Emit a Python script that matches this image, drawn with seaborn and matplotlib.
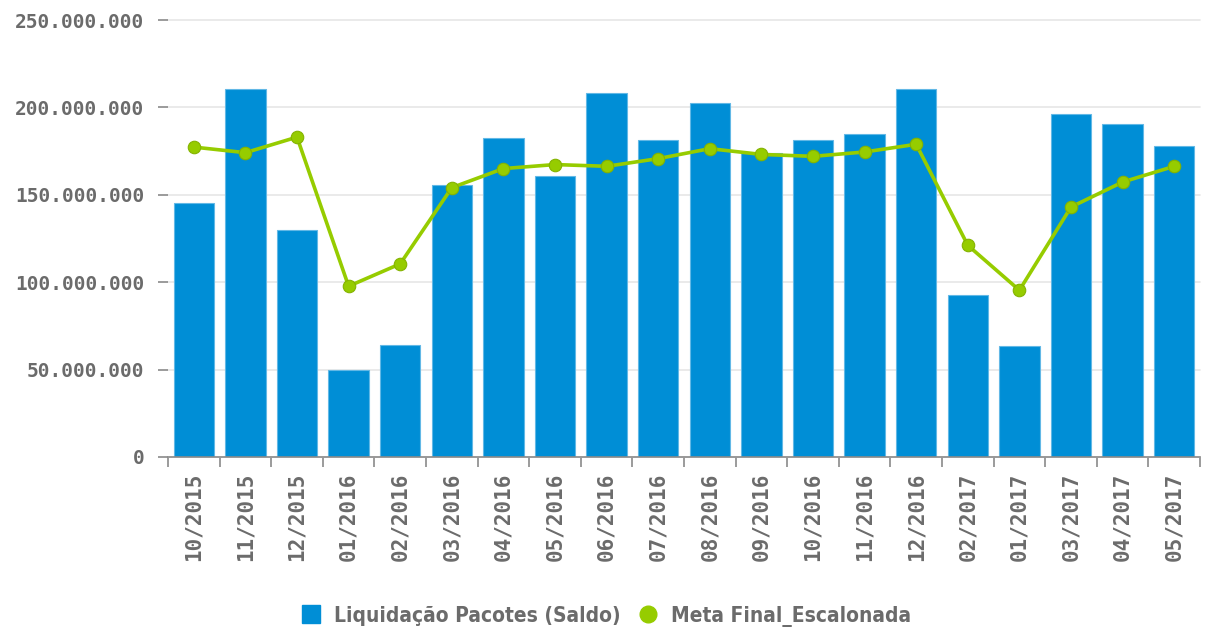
import matplotlib
matplotlib.use("Agg")
import matplotlib.pyplot as plt
import seaborn as sns
import pandas as pd
from matplotlib.lines import Line2D
from matplotlib.ticker import FuncFormatter, FixedLocator

categories = ["10/2015", "11/2015", "12/2015", "01/2016", "02/2016", "03/2016",
              "04/2016", "05/2016", "06/2016", "07/2016", "08/2016", "09/2016",
              "10/2016", "11/2016", "12/2016", "02/2017", "01/2017", "03/2017",
              "04/2017", "05/2017"]
liquidacao = [145.5, 210.7, 129.7, 49.7, 64.2, 155.4, 182.5, 161.0, 208.4, 181.3,
              202.7, 173.7, 181.3, 185.0, 210.7, 92.4, 63.3, 196.0, 190.5, 177.9]
meta = [177.3, 174.1, 183.0, 97.7, 110.5, 154.1, 165.0, 167.3, 166.3, 170.7,
        176.4, 173.1, 172.0, 174.5, 178.9, 121.1, 95.4, 143.0, 157.3, 166.3]
series_names = ["Liquidação Pacotes (Saldo)", "Meta Final_Escalonada"]

df = pd.DataFrame({
    "mes": categories,
    "liq": [v * 1e6 for v in liquidacao],
    "meta": [v * 1e6 for v in meta],
})

BLUE = "#008ED6"
GREEN = "#96CC00"
TXT = "#6b6b6b"

sns.set_theme(style="white")
plt.rcParams["font.family"] = ["DejaVu Sans Mono", "DejaVu Sans"]

fig = plt.figure(figsize=(12.05, 6.3), dpi=100)
ax = fig.add_axes([168 / 1205, 1 - 457 / 630, (1200 - 168) / 1205, (457 - 20) / 630])

sns.barplot(data=df, x="mes", y="liq", order=categories, color=BLUE, saturation=1,
            width=0.78, edgecolor="#62b8e6", linewidth=0.8, ax=ax, zorder=2)
sns.pointplot(data=df, x="mes", y="meta", order=categories, color=GREEN,
              markers="o", linewidth=2.6, markersize=9, ax=ax, zorder=3)
for coll in ax.lines:
    coll.set_markeredgecolor("#84b300")
    coll.set_markeredgewidth(0.8)

ax.set_xlim(-0.5, len(categories) - 0.5)
ax.set_ylim(0, 250e6)
ax.set_yticks([0, 50e6, 100e6, 150e6, 200e6, 250e6])
ax.yaxis.set_major_formatter(FuncFormatter(lambda v, p: f"{int(v):,}".replace(",", ".")))
ax.yaxis.grid(True, color="#e6e6e6", linewidth=1.2, zorder=0)
ax.set_axisbelow(True)
for gl in ax.get_ygridlines():
    gl.set_clip_on(False)

ax.set_xlabel("")
ax.set_ylabel("")
for s in ["top", "right", "left"]:
    ax.spines[s].set_visible(False)
ax.spines["bottom"].set_color("#8a8a8a")
ax.spines["bottom"].set_linewidth(1.2)

ax.set_xticks(range(len(categories)))
ax.set_xticklabels(categories, rotation=90, fontsize=15, fontweight="bold", color=TXT)
ax.tick_params(axis="x", which="major", length=0, pad=11)
ax.xaxis.set_minor_locator(FixedLocator([i - 0.5 for i in range(len(categories) + 1)]))
ax.tick_params(axis="x", which="minor", bottom=True, length=7, width=1.2, color="#8a8a8a")
ax.tick_params(axis="y", left=True, length=7, width=1.2, color="#8a8a8a", pad=10)
for lab in ax.get_yticklabels():
    lab.set_fontsize(14)
    lab.set_fontweight("bold")
    lab.set_color(TXT)

handles = [
    Line2D([], [], marker="s", linestyle="", markersize=13, color=BLUE),
    Line2D([], [], marker="o", linestyle="", markersize=12, color=GREEN),
]
fig.legend(handles, series_names, loc="center", bbox_to_anchor=(0.503, 0.022), ncol=2,
           frameon=False, handletextpad=0.6, columnspacing=0.8, handlelength=1.0,
           prop={"family": "DejaVu Sans", "weight": "bold", "size": 15, "stretch": "condensed"},
           labelcolor=TXT)

fig.savefig("out.png", dpi=100)
